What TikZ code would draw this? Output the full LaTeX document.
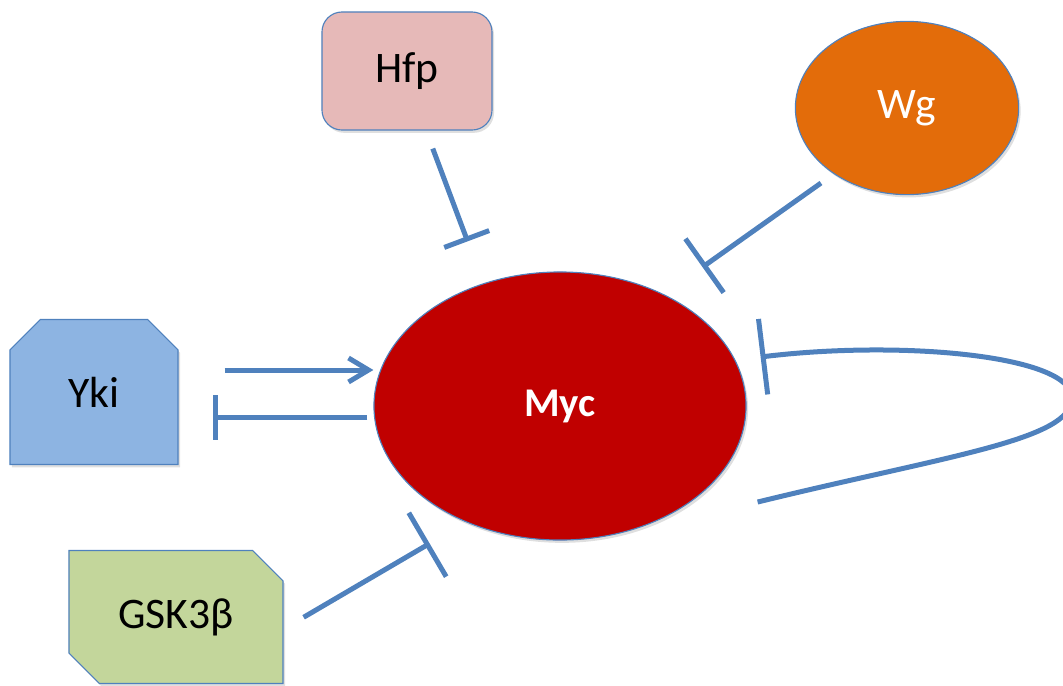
\documentclass[tikz,border=0pt]{standalone}
\usepackage{fontspec}
\setmainfont{Carlito}
\usetikzlibrary{arrows.meta, shapes.geometric, shapes.misc, shadows, calc}
\definecolor{linkblue}{RGB}{79,129,189}
\definecolor{mycred}{RGB}{192,0,0}
\definecolor{wgorange}{RGB}{227,108,10}
\definecolor{hfppink}{RGB}{230,185,184}
\definecolor{ykiblue}{RGB}{141,180,226}
\definecolor{gskgreen}{RGB}{195,214,155}

\begin{document}
\begin{tikzpicture}[
          x=0.025cm, y=-0.025cm,
          gene/.style={draw=linkblue, line width=0.8pt, align=center, inner sep=0pt,
                       font=\fontsize{31}{37}\selectfont,
                       drop shadow={shadow xshift=0.05cm, shadow yshift=-0.07cm, opacity=0.25}},
          roundbox/.style={gene, rectangle, rounded corners=0.5cm},
          snipbox/.style={gene, chamfered rectangle, chamfered rectangle xsep=0.38cm,
                          chamfered rectangle ysep=0.38cm},
          blob/.style={gene, ellipse},
          act/.style={-{Straight Barb[length=0.5cm, width=0.6cm]}, linkblue, line width=0.125cm},
          inh/.style={-{Bar[width=#1]}, linkblue, line width=0.125cm},
        ]
        \useasboundingbox (0,0) rectangle (1063,685);

        % nodes
        \node[blob, fill=mycred, minimum width=9.3cm, minimum height=6.7cm,
              text=white, font=\fontsize{29}{35}\selectfont\bfseries] (myc) at (560,406) {Myc};
        \node[roundbox, fill=hfppink, minimum width=4.25cm, minimum height=2.95cm] (hfp) at (407,71) {Hfp};
        \node[blob, fill=wgorange, minimum width=5.58cm, minimum height=4.33cm,
              text=white, font=\fontsize{31}{37}\selectfont] (wg) at (907,108) {Wg};
        \node[snipbox, fill=ykiblue, minimum width=4.2cm, minimum height=3.625cm,
              chamfered rectangle corners={north west, north east}] (yki) at (94,392) {Yki};
        \node[snipbox, fill=gskgreen, minimum width=5.35cm, minimum height=3.325cm,
              chamfered rectangle corners={north east, south west}] (gsk) at (176,617) {GSK3β};

        % Yki <-> Myc
        \coordinate (ykiA) at ([yshift=0.55cm]yki.east);
        \coordinate (ykiB) at ([yshift=-0.625cm]yki.east);
        \draw[act, shorten <=1.15cm] (ykiA) -- (ykiA -| myc.west);
        \draw[inh=1.125cm, shorten <=0.15cm, shorten >=0.85cm] (ykiB -| myc.west) -- (ykiB);

        % inhibitors of Myc
        \draw[inh=1.2cm, shorten <=0.48cm, shorten >=1.12cm] ([xshift=0.475cm]hfp.south) -- (myc.122);
        \draw[inh=1.65cm, shorten <=0.39cm, shorten >=1.175cm] (wg.222) -- (myc.47);
        \draw[inh=1.85cm, shorten <=0.58cm, shorten >=1.05cm] ([yshift=-0.3cm]gsk.east) -- (myc.231);

        % Myc self loop
        \coordinate (loopS) at ([shift={(0.275cm,-2.4cm)}]myc.east);
        \coordinate (loopE) at ([shift={(0.35cm,1.225cm)}]myc.east);
        \draw[inh=1.9cm] (loopS) .. controls (950,455) and (1072,440) .. (1072,398)
                                 .. controls (1072,355) and (900,340) .. (loopE);
      \end{tikzpicture}
\end{document}
